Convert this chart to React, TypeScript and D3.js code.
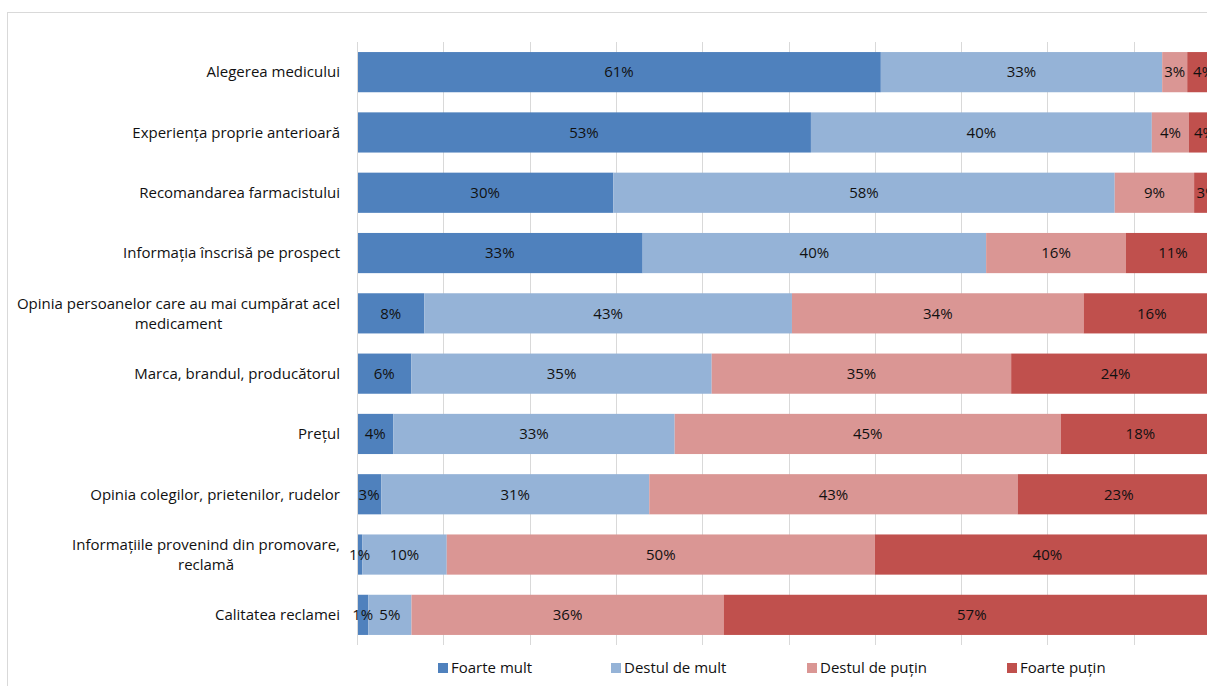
import React, { useEffect, useRef } from "react";
import * as d3 from "d3";

const categories = [
  "Alegerea medicului",
  "Experiența proprie anterioară",
  "Recomandarea farmacistului",
  "Informația înscrisă pe prospect",
  "Opinia persoanelor care au mai cumpărat acel\nmedicament",
  "Marca, brandul, producătorul",
  "Prețul",
  "Opinia colegilor, prietenilor, rudelor",
  "Informațiile provenind din promovare,\nreclamă",
  "Calitatea reclamei",
];

const seriesNames = ["Foarte mult", "Destul de mult", "Destul de puțin", "Foarte puțin"];
const seriesColors = ["#4F81BD", "#95B3D7", "#DA9694", "#C0504D"];

const foarteMult = [60.7, 52.6, 29.7, 33.1, 7.8, 6.3, 4.2, 2.8, 0.6, 1.3];
const destulDeMult = [32.6, 39.5, 58.1, 39.8, 42.6, 34.8, 32.5, 31.0, 9.8, 5.0];
const destulDePutin = [2.9, 4.3, 9.2, 16.2, 33.8, 34.7, 44.6, 42.6, 49.6, 36.1];
const foartePutin = [3.8, 3.6, 3.0, 10.9, 15.8, 24.2, 18.4, 23.4, 40.0, 57.4];

const xTicks = [0, 0.1, 0.2, 0.3, 0.4, 0.5, 0.6, 0.7, 0.8, 0.9, 1.0];

const FONT = "'Open Sans', 'Noto Sans', sans-serif";
const FS = 15;

export default function App() {
  const ref = useRef<SVGSVGElement | null>(null);

  useEffect(() => {
    const svg = d3.select(ref.current);
    svg.selectAll("*").remove();

    const left = 357, right = 1220, top = 42, bottom = 645;

    // chart border
    svg.append("rect")
      .attr("x", 7.5).attr("y", 12.5).attr("width", 1400).attr("height", 900)
      .attr("fill", "#fff").attr("stroke", "#d9d9d9").attr("stroke-width", 1);

    const rows = categories.map((c, i) => ({
      cat: c,
      [seriesNames[0]]: foarteMult[i],
      [seriesNames[1]]: destulDeMult[i],
      [seriesNames[2]]: destulDePutin[i],
      [seriesNames[3]]: foartePutin[i],
    })) as any[];

    const stack = d3.stack<any>().keys(seriesNames).offset(d3.stackOffsetExpand);
    const stacked = stack(rows);

    const x = d3.scaleLinear().domain([0, 1]).range([left, right]);
    const y = d3.scaleBand().domain(categories).range([top, bottom]).paddingInner(0.3336).paddingOuter(0.1668);

    // gridlines
    svg.append("g").selectAll("line").data(xTicks).join("line")
      .attr("x1", (d) => Math.round(x(d)) + 0.5).attr("x2", (d) => Math.round(x(d)) + 0.5)
      .attr("y1", top).attr("y2", bottom)
      .attr("stroke", "#d9d9d9").attr("stroke-width", 1);

    // bars
    const g = svg.append("g");
    stacked.forEach((s, si) => {
      g.append("g").selectAll("rect").data(s).join("rect")
        .attr("x", (d) => x(d[0]))
        .attr("width", (d) => x(d[1]) - x(d[0]))
        .attr("y", (d) => y((d as any).data.cat)!)
        .attr("height", y.bandwidth())
        .attr("fill", seriesColors[si]);
    });

    // axis line
    svg.append("line")
      .attr("x1", left + 0.5).attr("x2", left + 0.5).attr("y1", top).attr("y2", bottom)
      .attr("stroke", "#d9d9d9").attr("stroke-width", 1);

    // data labels
    const raw = [foarteMult, destulDeMult, destulDePutin, foartePutin];
    stacked.forEach((s, si) => {
      svg.append("g").selectAll("text").data(s).join("text")
        .attr("x", (d) => (x(d[0]) + x(d[1])) / 2)
        .attr("y", (d) => y((d as any).data.cat)! + y.bandwidth() / 2)
        .attr("dy", "0.35em")
        .attr("text-anchor", "middle")
        .attr("font-family", FONT).attr("font-size", FS).attr("fill", "#111")
        .text((d, i) => Math.round(raw[si][i]) + "%");
    });

    // category labels
    const labelRight = 340;
    const lineH = 20;
    categories.forEach((c) => {
      const lines = c.split("\n");
      const cy = y(c)! + y.bandwidth() / 2;
      const t = svg.append("text")
        .attr("font-family", FONT).attr("font-size", FS).attr("fill", "#111");
      const spans = lines.map((ln, li) =>
        t.append("tspan").attr("y", cy + (li - (lines.length - 1) / 2) * lineH).attr("dy", "0.35em").text(ln)
      );
      if (lines.length === 1) {
        t.attr("text-anchor", "end");
        spans[0].attr("x", labelRight);
      } else {
        const widths = spans.map((sp) => (sp.node() as SVGTSpanElement).getComputedTextLength());
        const maxW = Math.max(...widths);
        t.attr("text-anchor", "middle");
        spans.forEach((sp) => sp.attr("x", labelRight - maxW / 2));
      }
    });

    // legend
    const legendX = [438, 611, 807, 1007];
    const lg = svg.append("g");
    seriesNames.forEach((n, i) => {
      lg.append("rect").attr("x", legendX[i]).attr("y", 663).attr("width", 10).attr("height", 10)
        .attr("fill", seriesColors[i]);
      lg.append("text").attr("x", legendX[i] + 13).attr("y", 668).attr("dy", "0.35em")
        .attr("font-family", FONT).attr("font-size", FS).attr("fill", "#111").text(n);
    });
  }, []);

  return (
    <div style={{ position: "fixed", left: 0, top: 0, width: 1207, height: 686, overflow: "hidden", background: "#fff" }}>
      <svg ref={ref} width={1207} height={686} style={{ display: "block" }} />
    </div>
  );
}
